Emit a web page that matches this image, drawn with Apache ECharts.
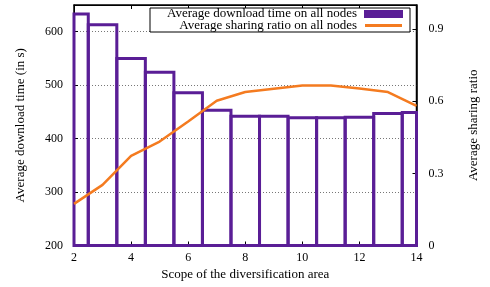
<!DOCTYPE html>
<html>
<head>
<meta charset="utf-8">
<script src="https://cdn.jsdelivr.net/npm/echarts@6/dist/echarts.min.js"></script>
<style>
html,body{margin:0;padding:0;background:#fff;}
#chart{width:490px;height:287px;}
</style>
</head>
<body>
<div id="chart"></div>
<script>
const scopes = [2, 3, 4, 5, 6, 7, 8, 9, 10, 11, 12, 13, 14];
const downloadTime = [633, 613, 550, 524, 486, 453, 442, 442, 439, 439, 440, 447, 449];
const sharingRatio = [0.173, 0.252, 0.373, 0.432, 0.516, 0.602, 0.638, 0.652, 0.665, 0.665, 0.653, 0.638, 0.581];
const barName = 'Average download time on all nodes';
const lineName = 'Average sharing ratio on all nodes';
const xTitle = 'Scope of the diversification area';
const yLeftTitle = 'Average download time (in s)';
const yRightTitle = 'Average sharing ratio';

const PURPLE = '#5a1e96';
const ORANGE = '#f47b20';
const FONT = 'Liberation Serif';

const chart = echarts.init(document.getElementById('chart'), null, {renderer: 'canvas'});

const barData = scopes.map((s, i) => [s, downloadTime[i]]);
const lineData = scopes.map((s, i) => [s, sharingRatio[i]]);

const txt = {color: '#000', fontFamily: FONT, fontSize: 12};

chart.setOption({
  animation: false,
  grid: {left: 74, right: 73.5, top: 5, bottom: 41.5, show: true, borderColor: '#000', borderWidth: 1.5, backgroundColor: 'transparent'},
  xAxis: [{
    type: 'value', min: 2, max: 14, interval: 2, position: 'bottom',
    axisLine: {show: true, onZero: false, lineStyle: {color: '#000', width: 1}},
    axisTick: {show: true, inside: true, length: 4, lineStyle: {color: '#000'}},
    axisLabel: Object.assign({margin: 6}, txt),
    splitLine: {show: false},
    name: xTitle, nameLocation: 'middle', nameGap: 22,
    nameTextStyle: {color: '#000', fontFamily: FONT, fontSize: 13}
  }, {
    type: 'value', min: 2, max: 14, interval: 2, position: 'top',
    axisLine: {show: true, onZero: false, lineStyle: {color: '#000', width: 1}},
    axisTick: {show: true, inside: true, length: 4, lineStyle: {color: '#000'}},
    axisLabel: {show: false},
    splitLine: {show: false}
  }],
  yAxis: [{
    type: 'value', min: 200, max: 650, interval: 100, position: 'left',
    axisLine: {show: true, lineStyle: {color: '#000', width: 1}},
    axisTick: {show: true, inside: true, length: 4, lineStyle: {color: '#000'}},
    axisLabel: Object.assign({margin: 11, showMaxLabel: false}, txt),
    splitLine: {show: true, lineStyle: {color: '#777', type: [1, 2], width: 1}},
    name: yLeftTitle, nameLocation: 'middle', nameRotate: 90, nameGap: 47,
    nameTextStyle: {color: '#000', fontFamily: FONT, fontSize: 13}
  }, {
    type: 'value', min: 0, max: 1.0, interval: 0.3, position: 'right',
    axisLine: {show: true, lineStyle: {color: '#000', width: 1.5}},
    axisTick: {show: true, inside: true, length: 4, lineStyle: {color: '#000'}},
    axisLabel: Object.assign({margin: 12, showMaxLabel: false}, txt),
    splitLine: {show: false},
    name: yRightTitle, nameLocation: 'middle', nameRotate: 90, nameGap: 51,
    nameTextStyle: {color: '#000', fontFamily: FONT, fontSize: 13}
  }],
  series: [{
    name: barName,
    type: 'custom',
    xAxisIndex: 0, yAxisIndex: 0,
    data: barData,
    z: 3,
    renderItem: function (params, api) {
      const x = api.value(0), y = api.value(1);
      const p1 = api.coord([x - 0.5, y]);
      const p2 = api.coord([x + 0.5, 200]);
      const rect = {x: p1[0], y: p1[1], width: p2[0] - p1[0], height: p2[1] - p1[1]};
      const cs = params.coordSys;
      const clipped = echarts.graphic.clipRectByRect(rect, {x: cs.x, y: cs.y, width: cs.width, height: cs.height});
      if (!clipped) return null;
      return {type: 'rect', shape: clipped, style: {fill: 'none', stroke: PURPLE, lineWidth: 3}};
    }
  }, {
    name: lineName,
    type: 'line',
    xAxisIndex: 0, yAxisIndex: 1,
    data: lineData,
    showSymbol: false,
    symbol: 'none',
    z: 4,
    lineStyle: {color: ORANGE, width: 2.5}
  }],
  graphic: [
    {type: 'rect', z: 100, shape: {x: 150, y: 8, width: 260, height: 24}, style: {fill: '#fff', stroke: '#000', lineWidth: 1}},
    {type: 'text', z: 101, x: 357, y: 14, style: {text: barName, fill: '#000', font: '13px "Liberation Serif"', align: 'right', verticalAlign: 'middle'}},
    {type: 'rect', z: 101, shape: {x: 364, y: 10, width: 39, height: 8}, style: {fill: PURPLE}},
    {type: 'text', z: 101, x: 357, y: 25.5, style: {text: lineName, fill: '#000', font: '13px "Liberation Serif"', align: 'right', verticalAlign: 'middle'}},
    {type: 'line', z: 101, shape: {x1: 365, y1: 25.5, x2: 402, y2: 25.5}, style: {stroke: ORANGE, lineWidth: 3}}
  ]
});
</script>
</body>
</html>
